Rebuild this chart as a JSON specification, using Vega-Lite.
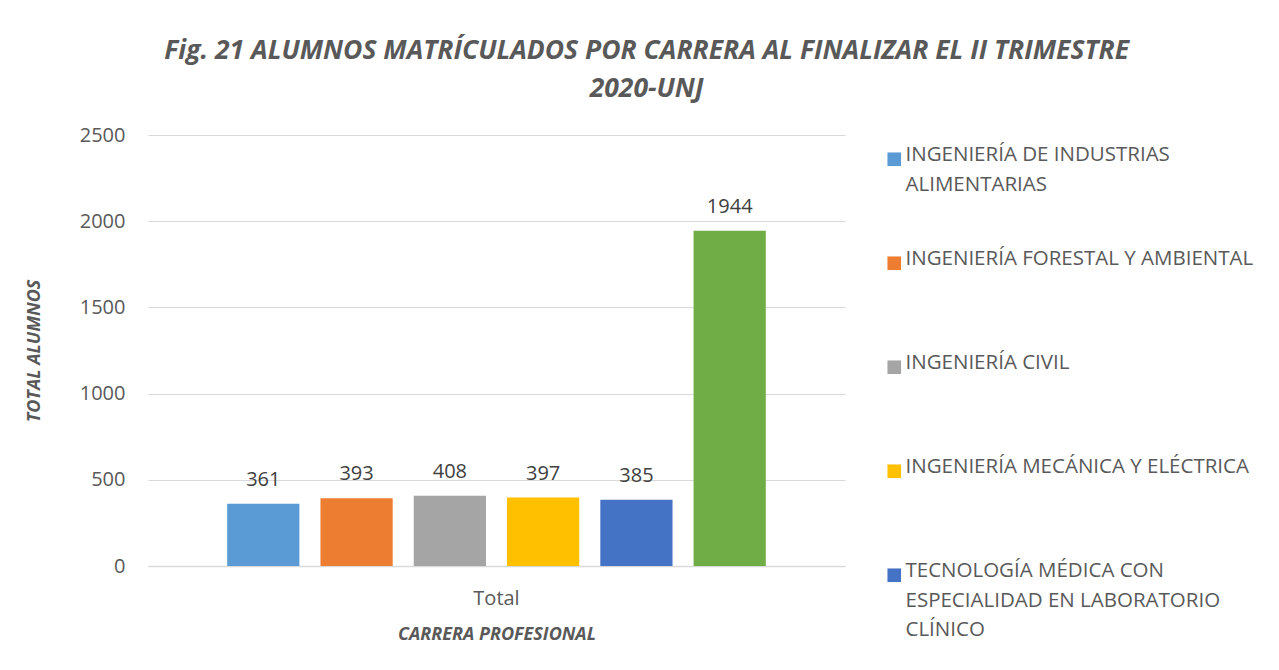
{
  "$schema": "https://vega.github.io/schema/vega-lite/v6.json",
  "width": 697,
  "height": 431,
  "autosize": {"type": "none"},
  "padding": {"left": 148, "top": 135, "right": 434, "bottom": 104},
  "background": "white",
  "title": {
    "text": ["Fig. 21  ALUMNOS MATRÍCULADOS POR CARRERA AL FINALIZAR EL II TRIMESTRE", "2020-UNJ"],
    "font": "Open Sans",
    "fontSize": 26.5,
    "fontWeight": "bold",
    "fontStyle": "italic",
    "color": "#595959",
    "anchor": "middle",
    "frame": "bounds",
    "lineHeight": 38,
    "offset": 23,
    "dx": 0
  },
  "config": {
    "view": {"stroke": null},
    "font": "Open Sans"
  },
  "data": {
    "values": [
      {"grupo": "Total", "carrera": "INGENIERÍA DE INDUSTRIAS ALIMENTARIAS", "alumnos": 361},
      {"grupo": "Total", "carrera": "INGENIERÍA FORESTAL Y AMBIENTAL", "alumnos": 393},
      {"grupo": "Total", "carrera": "INGENIERÍA CIVIL", "alumnos": 408},
      {"grupo": "Total", "carrera": "INGENIERÍA MECÁNICA Y ELÉCTRICA", "alumnos": 397},
      {"grupo": "Total", "carrera": "TECNOLOGÍA MÉDICA CON ESPECIALIDAD EN LABORATORIO CLÍNICO", "alumnos": 385},
      {"grupo": "Total", "carrera": "TOTAL GENERAL", "alumnos": 1944}
    ]
  },
  "encoding": {
    "x": {
      "field": "grupo",
      "type": "nominal",
      "scale": {"paddingInner": 0, "paddingOuter": 0},
      "axis": {
        "title": "CARRERA PROFESIONAL",
        "titleFont": "Open Sans",
        "titleFontSize": 18,
        "titleFontWeight": "bold",
        "titleFontStyle": "italic",
        "titleColor": "#595959",
        "titlePadding": 17,
        "labelAngle": 0,
        "labelFontSize": 20,
        "labelColor": "#595959",
        "labelPadding": 22,
        "ticks": false,
        "domainColor": "#d9d9d9",
        "domainWidth": 1.5
      }
    },
    "xOffset": {
      "field": "carrera",
      "type": "nominal",
      "sort": null,
      "scale": {"paddingInner": 0.2258, "paddingOuter": 0.849}
    },
    "y": {
      "field": "alumnos",
      "type": "quantitative",
      "scale": {"domain": [0, 2500]},
      "axis": {
        "title": "TOTAL ALUMNOS",
        "titleFont": "Open Sans",
        "titleFontSize": 18,
        "titleFontWeight": "bold",
        "titleFontStyle": "italic",
        "titleColor": "#595959",
        "titlePadding": 36,
        "values": [0, 500, 1000, 1500, 2000, 2500],
        "format": "d",
        "labelFontSize": 20,
        "labelColor": "#595959",
        "labelPadding": 23,
        "ticks": false,
        "domain": false,
        "gridColor": "#d9d9d9",
        "gridWidth": 1.2
      }
    }
  },
  "layer": [
    {
      "mark": {"type": "bar"},
      "encoding": {
        "color": {
          "field": "carrera",
          "type": "nominal",
          "sort": null,
          "scale": {
            "domain": ["INGENIERÍA DE INDUSTRIAS ALIMENTARIAS", "INGENIERÍA FORESTAL Y AMBIENTAL", "INGENIERÍA CIVIL", "INGENIERÍA MECÁNICA Y ELÉCTRICA", "TECNOLOGÍA MÉDICA CON ESPECIALIDAD EN LABORATORIO CLÍNICO", "TOTAL GENERAL"],
            "range": ["#5B9BD5", "#ED7D31", "#A5A5A5", "#FFC000", "#4472C4", "#70AD47"]
          },
          "legend": {
            "title": null,
            "orient": "right",
            "offset": 25,
            "padding": 14,
            "values": ["INGENIERÍA DE INDUSTRIAS ALIMENTARIAS", "INGENIERÍA FORESTAL Y AMBIENTAL", "INGENIERÍA CIVIL", "INGENIERÍA MECÁNICA Y ELÉCTRICA", "TECNOLOGÍA MÉDICA CON ESPECIALIDAD EN LABORATORIO CLÍNICO"],
            "symbolType": "square",
            "symbolSize": 185,
            "symbolStrokeWidth": 0,
            "labelFontSize": 20.5,
            "labelColor": "#595959",
            "labelOffset": 1,
            "labelLimit": 420,
            "labelBaseline": "top",
            "rowPadding": 24,
            "labelExpr": "datum.label == 'INGENIERÍA DE INDUSTRIAS ALIMENTARIAS' ? ['INGENIERÍA DE INDUSTRIAS', 'ALIMENTARIAS', ''] : datum.label == 'TECNOLOGÍA MÉDICA CON ESPECIALIDAD EN LABORATORIO CLÍNICO' ? ['TECNOLOGÍA MÉDICA CON', 'ESPECIALIDAD EN LABORATORIO', 'CLÍNICO'] : [datum.label, '', '']",
            "encode": {
              "labels": {"update": {"lineHeight": {"value": 29.5}, "dy": {"value": -14}}}
            }
          }
        }
      }
    },
    {
      "mark": {"type": "text", "baseline": "bottom", "dy": -14, "fontSize": 20, "color": "#404040", "font": "Open Sans"},
      "encoding": {
        "text": {"field": "alumnos", "type": "quantitative"}
      }
    }
  ]
}
